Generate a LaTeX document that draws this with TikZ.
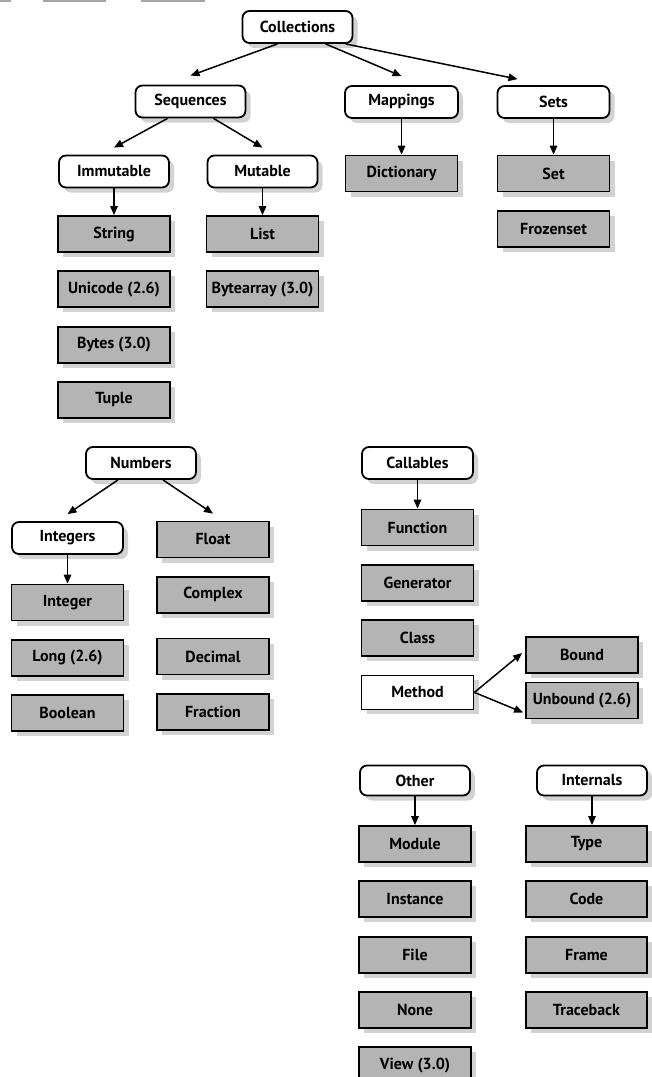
\documentclass[tikz,border=0pt]{standalone}
\usepackage{fontspec}
\setmainfont{PT Sans}
\usepackage{tikz}
\usetikzlibrary{positioning, calc, arrows.meta, shadows}
\definecolor{leafgray}{RGB}{180,180,180}
\definecolor{shadegray}{RGB}{165,165,165}

\begin{document}
\begin{tikzpicture}[x=1pt, y=-1pt,
  every node/.style={font=\fontsize{16}{18}\selectfont\bfseries},
  group/.style={draw, line width=1.8pt, rounded corners=7pt, fill=white,
    minimum width=110pt, minimum height=32pt, inner sep=0pt,
    drop shadow={shadow xshift=5pt, shadow yshift=-5pt, fill=shadegray}},
  kind/.style={draw, line width=1.8pt, fill=leafgray,
    minimum width=112pt, minimum height=36pt, inner sep=0pt,
    drop shadow={shadow xshift=5pt, shadow yshift=-5pt, fill=shadegray}},
  arr/.style={line width=1.5pt, -{Triangle[length=9pt, width=7.5pt]}},
  node distance=17.5pt]
  \useasboundingbox (0,0) rectangle (652,1077);
  \foreach \a/\b in {0/11, 43/106, 141/205}
    \fill[shadegray] (\a,0) rectangle (\b,2);

  % collections
  \node[group] (coll) at (297.5,27) {Collections};
  \node[group] (seq) at (190.5,101.5) {Sequences};
  \node[group, minimum width=113pt] (map) at (401.5,102) {Mappings};
  \node[group, minimum width=112pt] (sets) at (553.5,102) {Sets};
  \node[group] (immut) at (114,171.5) {Immutable};
  \node[group] (mut) at (262.5,171.5) {Mutable};
  \node[kind] (string) at (114,234) {String};
  \node[kind, below=of string] (unicode) {Unicode (2.6)};
  \node[kind, below=of unicode] (bytes) {Bytes (3.0)};
  \node[kind, below=of bytes] (tuple) {Tuple};
  \node[kind] (list) at (262.5,234) {List};
  \node[kind, below=of list] (bytearray) {Bytearray (3.0)};
  \node[kind] (dict) at (401.5,173.5) {Dictionary};
  \node[kind] (set) at (553.5,173.5) {Set};
  \node[kind, below=of set] (frozenset) {Frozenset};

  \draw[arr] ([xshift=-20pt]coll.south) -- ([yshift=9pt]seq.north);
  \draw[arr] ([xshift=28pt]coll.south) -- ([yshift=9pt]map.north);
  \draw[arr] ([xshift=48pt]coll.south) -- ([xshift=-36pt, yshift=6pt]sets.north);
  \draw[arr] ([xshift=-23pt]seq.south) -- ([yshift=7pt]immut.north);
  \draw[arr] ([xshift=23pt]seq.south) -- ([yshift=7pt]mut.north);
  \draw[arr] (immut) -- (string);
  \draw[arr] (mut) -- (list);
  \draw[arr] (map) -- (dict);
  \draw[arr] (sets) -- (set);

  % numbers
  \node[group] (numbers) at (141,463) {Numbers};
  \node[group, minimum width=111pt] (integers) at (67.5,538) {Integers};
  \node[kind] (integer) at (67.5,602.5) {Integer};
  \node[kind, below=of integer] (long) {Long (2.6)};
  \node[kind, below=of long] (boolean) {Boolean};
  \node[kind] (float) at (213,539.5) {Float};
  \node[kind, below=of float] (complex) {Complex};
  \node[kind] (decimal) at (213,656.5) {Decimal};
  \node[kind, below=of decimal] (fraction) {Fraction};

  \draw[arr] ([xshift=-23pt]numbers.south) -- ([yshift=7pt]integers.north);
  \draw[arr] ([xshift=22pt]numbers.south) -- ([yshift=7pt]float.north);
  \draw[arr] (integers) -- (integer);

  % callables
  \node[group, minimum width=111pt] (callables) at (417.5,463) {Callables};
  \node[kind] (function) at (417.5,527.5) {Function};
  \node[kind, below=of function] (generator) {Generator};
  \node[kind, below=of generator] (class) {Class};
  \node[kind, fill=white, minimum height=34pt, below=of class] (method) {Method};
  \node[kind] (bound) at (582,655) {Bound};
  \node[kind] (unbound) at (582,700.5) {Unbound (2.6)};

  \draw[arr] (callables) -- (function);
  \draw[arr] (method.east) -- ([xshift=-3pt, yshift=2pt]bound.west);
  \draw[arr] (method.east) -- ([xshift=-2pt, yshift=-12pt]unbound.west);

  % other and internals
  \node[group, minimum height=30pt] (other) at (415,780.5) {Other};
  \node[kind] (module) at (415,844) {Module};
  \node[kind, below=of module] (instance) {Instance};
  \node[kind, below=of instance] (file) {File};
  \node[kind, below=of file] (none) {None};
  \node[kind, below=of none] (view) {View (3.0)};
  \node[group, minimum height=30pt] (internals) at (592,780.5) {Internals};
  \node[kind, minimum width=121pt] (type) at (586.5,844) {Type};
  \node[kind, minimum width=121pt, below=of type] (code) {Code};
  \node[kind, minimum width=121pt, below=of code] (frame) {Frame};
  \node[kind, minimum width=121pt, below=of frame] (traceback) {Traceback};

  \draw[arr] (other) -- (module);
  \draw[arr] (internals) -- (internals |- type.north);
\end{tikzpicture}
\end{document}
